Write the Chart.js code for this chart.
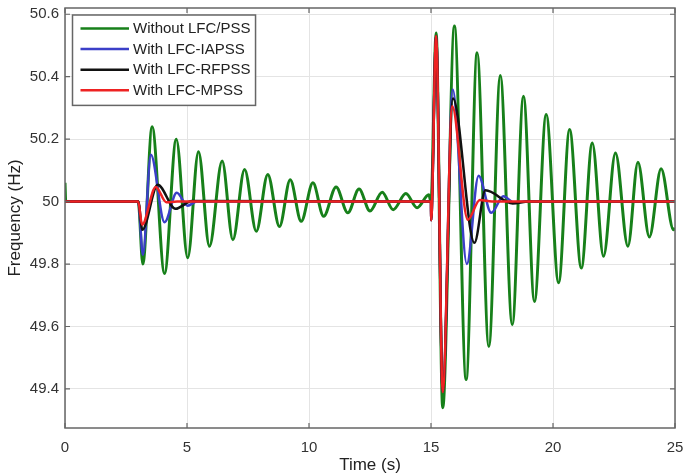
<!DOCTYPE html>
<html>
<head>
<meta charset="utf-8">
<script src="https://cdn.jsdelivr.net/npm/chart.js@4.4.1/dist/chart.umd.min.js"></script>
<style>
  body { margin: 0; background: #fff; }
  canvas { display: block; }
</style>
</head>
<body>
<canvas id="freqChart" width="684" height="474"></canvas>
<script>
// tick values
const xTicks = [0, 5, 10, 15, 20, 25];
const yTicks = [49.4, 49.6, 49.8, 50, 50.2, 50.4, 50.6];

// Without LFC/PSS (green) - extrema
const timeNoPss = [0, 0.03, 3.0, 3.19, 3.57, 4.08, 4.56, 5.03, 5.47, 5.92, 6.44, 6.88, 7.36, 7.84, 8.31, 8.79, 9.23, 9.68, 10.16, 10.6, 11.11, 11.59, 12.05, 12.5, 13.0, 13.45, 13.97, 14.43, 14.91, 15.0,
  15.21, 15.48, 15.96, 16.44, 16.89, 17.37, 17.84, 18.33, 18.79, 19.24, 19.72, 20.23, 20.68, 21.16, 21.61, 22.07, 22.56, 23.07, 23.48, 23.95, 24.43, 24.94, 25];
const freqNoPss = [50.06, 50.0, 50.0, 49.80, 50.24, 49.77, 50.20, 49.82, 50.16, 49.857, 50.13, 49.878, 50.103, 49.905, 50.087, 49.92, 50.07, 49.937, 50.06, 49.953, 50.047, 49.964, 50.04, 49.97, 50.03, 49.974, 50.026, 49.98, 50.022, 50.0,
  50.54, 49.34, 50.562, 49.43, 50.477, 49.536, 50.404, 49.606, 50.337, 49.68, 50.279, 49.74, 50.231, 49.787, 50.188, 49.825, 50.156, 49.857, 50.126, 49.887, 50.105, 49.91, 49.915];

// With LFC-IAPSS (blue)
const timeIapss = [0, 3.0, 3.19, 3.52, 4.08, 4.58, 5.03, 5.4, 15.0, 15.005, 15.21, 15.48, 15.89, 16.47, 16.95, 17.47, 17.97, 18.4, 18.8, 25];
const freqIapss = [50, 50, 49.83, 50.15, 49.934, 50.028, 49.987, 50, 50, 49.94, 50.53, 49.39, 50.359, 49.80, 50.083, 49.964, 50.017, 49.997, 50, 50];

// With LFC-RFPSS (black)
const timeRfpss = [0, 3.0, 3.17, 3.80, 4.53, 5.2, 15.0, 15.005, 15.21, 15.48, 15.9, 16.78, 17.23, 18.35, 19.0, 25];
const freqRfpss = [50, 50, 49.91, 50.054, 49.977, 50.002, 50, 49.94, 50.53, 49.39, 50.33, 49.868, 50.036, 49.994, 50, 50];

// With LFC-MPSS (red)
const timeMpss = [0, 3.0, 3.16, 3.72, 4.15, 4.6, 15.0, 15.005, 15.21, 15.48, 15.87, 16.51, 17.0, 17.5, 25];
const freqMpss = [50, 50, 49.926, 50.047, 49.998, 50, 50, 49.94, 50.53, 49.39, 50.305, 49.942, 50.005, 50, 50];

function pairs(ts, fs) {
  return ts.map((t, i) => ({ x: t, y: fs[i] }));
}

const labelFont = { family: "'Liberation Sans', Arial, sans-serif", size: 15 };
const titleFont = { family: "'Liberation Sans', Arial, sans-serif", size: 17 };

// matlab style box with inward ticks
const boxPlugin = {
  id: 'box',
  afterDatasetsDraw(chart) {
    const { ctx, chartArea: a, scales } = chart;
    ctx.save();
    ctx.strokeStyle = '#666';
    ctx.lineWidth = 1.5;
    ctx.strokeRect(a.left, a.top, a.right - a.left, a.bottom - a.top);
    ctx.lineWidth = 1.2;
    ctx.beginPath();
    xTicks.forEach(v => {
      const px = scales.x.getPixelForValue(v);
      ctx.moveTo(px, a.bottom); ctx.lineTo(px, a.bottom - 5);
      ctx.moveTo(px, a.top); ctx.lineTo(px, a.top + 5);
    });
    yTicks.forEach(v => {
      const py = scales.y.getPixelForValue(v);
      ctx.moveTo(a.left, py); ctx.lineTo(a.left + 5, py);
      ctx.moveTo(a.right, py); ctx.lineTo(a.right - 5, py);
    });
    ctx.stroke();
    ctx.restore();
  }
};

// legend box in the upper left corner
const legendPlugin = {
  id: 'innerLegend',
  afterDraw(chart) {
    const { ctx, chartArea: a } = chart;
    const sets = chart.data.datasets;
    ctx.save();
    ctx.font = "15px 'Liberation Sans', Arial, sans-serif";
    const textW = Math.max(...sets.map(d => ctx.measureText(d.label).width));
    const x0 = a.left + 7.5, y0 = a.top + 7, rowH = 20.6;
    const w = 8 + 48.5 + 4 + textW + 5, h = 8 + rowH * sets.length;
    ctx.fillStyle = '#fff';
    ctx.fillRect(x0, y0, w, h);
    ctx.strokeStyle = '#666';
    ctx.lineWidth = 1.5;
    ctx.strokeRect(x0, y0, w, h);
    sets.forEach((d, i) => {
      const y = y0 + 13.5 + i * rowH;
      ctx.strokeStyle = d.borderColor;
      ctx.lineWidth = 2.5;
      ctx.beginPath();
      ctx.moveTo(x0 + 8, y);
      ctx.lineTo(x0 + 56.5, y);
      ctx.stroke();
      ctx.fillStyle = '#222';
      ctx.textBaseline = 'middle';
      ctx.fillText(d.label, x0 + 60.5, y + 0.5);
    });
    ctx.restore();
  }
};

const ctx = document.getElementById('freqChart').getContext('2d');

const freqChart = new Chart(ctx, {
  type: 'line',
  data: {
    datasets: [
      { label: 'Without LFC/PSS', data: pairs(timeNoPss, freqNoPss), borderColor: '#17801a', borderWidth: 3, order: 4 },
      { label: 'With LFC-IAPSS', data: pairs(timeIapss, freqIapss), borderColor: '#3b3fc8', borderWidth: 2.5, order: 3 },
      { label: 'With LFC-RFPSS', data: pairs(timeRfpss, freqRfpss), borderColor: '#111111', borderWidth: 2.5, order: 2 },
      { label: 'With LFC-MPSS', data: pairs(timeMpss, freqMpss), borderColor: '#ee2222', borderWidth: 2.5, order: 1 }
    ]
  },
  options: {
    responsive: false,
    animation: false,
    elements: { point: { radius: 0 }, line: { cubicInterpolationMode: 'monotone' } },
    layout: { padding: 0 },
    plugins: { legend: { display: false }, tooltip: { enabled: false } },
    scales: {
      x: {
        type: 'linear',
        min: 0,
        max: 25,
        afterBuildTicks: s => { s.ticks = xTicks.map(v => ({ value: v })); },
        afterFit: s => { s.height = 46; s.paddingLeft = 0; s.paddingRight = 9; },
        grid: { color: '#e4e4e4', lineWidth: 1, drawTicks: false },
        border: { display: false },
        ticks: { color: '#333', font: labelFont, padding: 11, maxRotation: 0 },
        title: { display: true, text: 'Time (s)', color: '#222', font: titleFont, padding: { top: 0, bottom: -2 } }
      },
      y: {
        min: 49.275,
        max: 50.62,
        afterBuildTicks: s => { s.ticks = yTicks.map(v => ({ value: v })); },
        afterFit: s => { s.width = 65; s.paddingTop = 8; s.paddingBottom = 0; },
        grid: { color: '#e4e4e4', lineWidth: 1, drawTicks: false },
        border: { display: false },
        ticks: { color: '#333', font: labelFont, padding: 6, callback: v => String(+v.toFixed(1)) },
        title: { display: true, text: 'Frequency (Hz)', color: '#222', font: titleFont, padding: { top: 5, bottom: 0 } }
      }
    }
  },
  plugins: [boxPlugin, legendPlugin]
});
</script>
</body>
</html>
